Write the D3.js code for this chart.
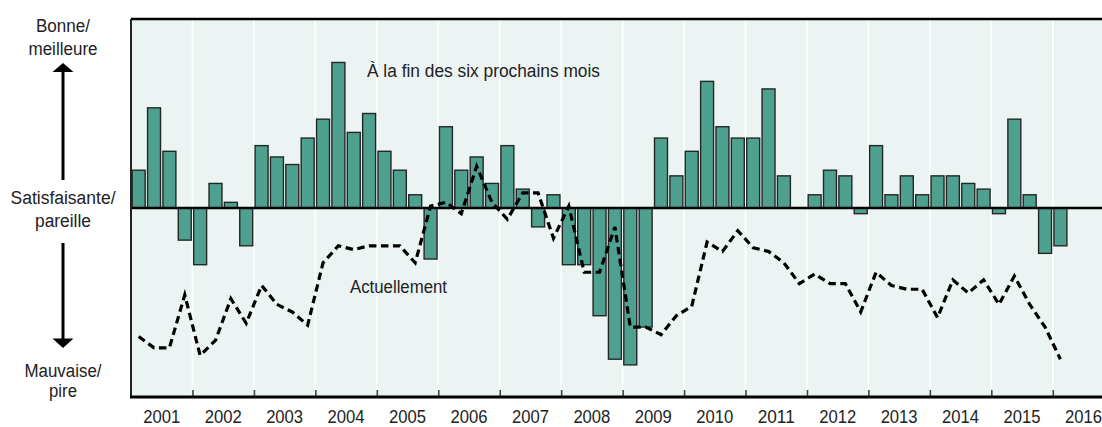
<!DOCTYPE html>
<html>
<head>
<meta charset="utf-8">
<script src="https://cdn.jsdelivr.net/npm/d3@7"></script>
<style>
  body { margin: 0; background: #fff; }
  svg { display: block; font-family: 'Liberation Sans', Arial, sans-serif; }
</style>
</head>
<body>
<svg id="chart" width="1102" height="427"></svg>
<script>
// quarterly balance of opinion, 2001T1 .. 2016T1
const firstYear = 2001
const yearLabels = ['2001', '2002', '2003', '2004', '2005', '2006', '2007', '2008',
  '2009', '2010', '2011', '2012', '2013', '2014', '2015', '2016']

// bars: "À la fin des six prochains mois"
const nextSixMonths = [
  20, 53, 30, -17,   -30, 13, 3, -20,   33, 27, 23, 37,   47, 77, 40, 50,
  30, 20, 7, -27,    43, 20, 27, 13,    33, 10, -10, 7,   -30, -30, -57, -80,
  -83, -63, 37, 17,  30, 67, 43, 37,    37, 63, 17, 0,    7, 20, 17, -3,
  33, 7, 17, 7,      17, 17, 13, 10,    -3, 47, 7, -24,   -20
]

// dashed line: "Actuellement"
const currently = [
  -68, -74, -74, -46,  -78, -70, -48, -61,  -41, -51, -55, -62,  -29, -20, -22, -20,
  -20, -20, -29, 1,    3, -3, 22, 3,        -6, 8, 8, -16,       1, -34, -34, -10,
  -63, -63, -67, -57,  -52, -18, -23, -12,  -21, -23, -29, -40,  -35, -40, -40, -55,
  -34, -41, -43, -43,  -58, -38, -45, -38,  -51, -36, -51, -63,  -80
]

// the reference uses a condensed face: squeeze a normal one into the same widths
function squeeze(sel, w) {
  sel.attr('textLength', w).attr('lengthAdjust', 'spacingAndGlyphs')
}

function drawChart() {
  const svg = d3.select('#chart')
  const width = 1102
  const top = 19
  const bottom = 397
  const left = 131
  const fs = 18

  const x = d3.scaleLinear()
    .domain([2001, 2017])
    .range([left, left + 16 * 61.45])
  const y = d3.scaleLinear()
    .domain([-100, 100])
    .range([bottom, top])

  const qDate = i => firstYear + i / 4
  const qWidth = x(2001.25) - x(2001)
  const gap = 1.2

  // background
  svg.append('rect')
    .attr('x', left)
    .attr('y', top)
    .attr('width', width - left)
    .attr('height', bottom - top)
    .attr('fill', '#ecf4f3')

  // white year separators
  const boundaries = d3.range(2002, 2017)
  svg.append('g')
    .selectAll('line')
    .data(boundaries)
    .join('line')
    .attr('x1', d => x(d))
    .attr('x2', d => x(d))
    .attr('y1', top)
    .attr('y2', bottom)
    .attr('stroke', '#fff')
    .attr('stroke-width', 1.6)

  // bars
  svg.append('g')
    .selectAll('rect')
    .data(nextSixMonths.map((v, i) => ({ v, i })).filter(d => d.v !== 0))
    .join('rect')
    .attr('x', d => x(qDate(d.i)) + gap)
    .attr('width', qWidth - 2 * gap)
    .attr('y', d => y(Math.max(0, d.v)))
    .attr('height', d => Math.abs(y(d.v) - y(0)))
    .attr('fill', '#4ea08f')
    .attr('stroke', '#262626')
    .attr('stroke-width', 1.4)

  // zero line
  svg.append('line')
    .attr('x1', left)
    .attr('x2', width)
    .attr('y1', y(0))
    .attr('y2', y(0))
    .attr('stroke', '#000')
    .attr('stroke-width', 2.4)

  // dashed "currently" line
  const line = d3.line()
    .x((d, i) => x(qDate(i) + 0.125))
    .y(d => y(d))
  svg.append('path')
    .datum(currently)
    .attr('d', line)
    .attr('fill', 'none')
    .attr('stroke', '#000')
    .attr('stroke-width', 3.2)
    .attr('stroke-dasharray', '7.5,4.5')

  // frame
  svg.append('line')
    .attr('x1', left).attr('x2', width)
    .attr('y1', top).attr('y2', top)
    .attr('stroke', '#000').attr('stroke-width', 2.4)
  svg.append('line')
    .attr('x1', left).attr('x2', left)
    .attr('y1', top).attr('y2', bottom)
    .attr('stroke', '#222').attr('stroke-width', 2)

  // bottom axis, ticks pointing inward
  const axis = svg.append('g')
    .attr('transform', `translate(0,${bottom})`)
    .call(d3.axisBottom(x).tickValues(boundaries).tickSize(-7).tickFormat(''))
  axis.select('.domain').remove()
  axis.selectAll('.tick line').attr('stroke', '#444').attr('stroke-width', 1.6)
  svg.append('line')
    .attr('x1', left - 1).attr('x2', width)
    .attr('y1', bottom).attr('y2', bottom)
    .attr('stroke', '#000').attr('stroke-width', 2.8)

  svg.append('g')
    .selectAll('text')
    .data(yearLabels)
    .join('text')
    .attr('x', d => x(+d + 0.5))
    .attr('y', 423)
    .attr('text-anchor', 'middle')
    .attr('font-size', fs)
    .attr('fill', '#222')
    .text(d => d)
    .call(squeeze, 37)

  // series labels
  svg.append('text')
    .attr('x', 367)
    .attr('y', 77)
    .attr('font-size', fs)
    .attr('fill', '#222')
    .text('À la fin des six prochains mois')
    .call(squeeze, 233)
  svg.append('text')
    .attr('x', 350)
    .attr('y', 293)
    .attr('font-size', fs)
    .attr('fill', '#222')
    .text('Actuellement')
    .call(squeeze, 97)

  // left side scale description
  const side = svg.append('g')
    .attr('font-size', fs)
    .attr('fill', '#222')
    .attr('text-anchor', 'middle')
  const sideLabels = [
    ['Bonne/', 32, 54], ['meilleure', 55, 69],
    ['Satisfaisante/', 204, 105], ['pareille', 227, 56],
    ['Mauvaise/', 377, 77], ['pire', 397, 28]
  ]
  side.selectAll('text')
    .data(sideLabels)
    .join('text')
    .attr('x', 63)
    .attr('y', d => d[1])
    .attr('textLength', d => d[2])
    .attr('lengthAdjust', 'spacingAndGlyphs')
    .text(d => d[0])

  // arrows
  side.append('line')
    .attr('x1', 63).attr('x2', 63).attr('y1', 180).attr('y2', 72)
    .attr('stroke', '#000').attr('stroke-width', 3)
  side.append('path')
    .attr('d', 'M52.5,72 L73.5,72 L63,63 Z')
    .attr('fill', '#000')
  side.append('line')
    .attr('x1', 63).attr('x2', 63).attr('y1', 243).attr('y2', 339)
    .attr('stroke', '#000').attr('stroke-width', 3)
  side.append('path')
    .attr('d', 'M52.5,338.5 L73.5,338.5 L63,348 Z')
    .attr('fill', '#000')
}

document.addEventListener('DOMContentLoaded', drawChart, false)
</script>
</body>
</html>
